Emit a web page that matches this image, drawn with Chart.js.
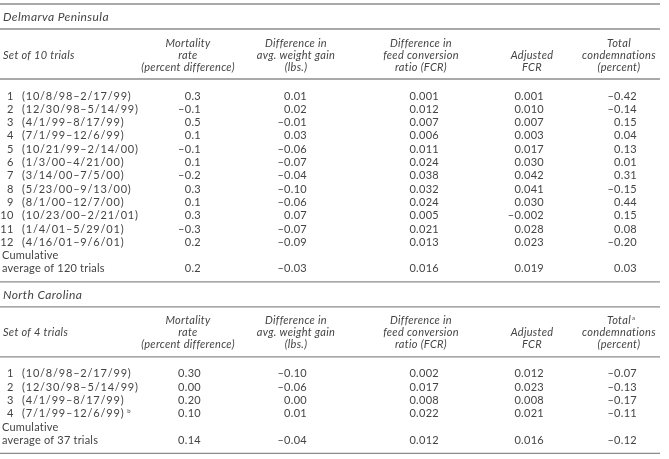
<!DOCTYPE html>
<html>
<head>
<meta charset="utf-8">
<script src="https://cdn.jsdelivr.net/npm/chart.js@4/dist/chart.umd.min.js"></script>
<style>
  html, body { margin: 0; padding: 0; background: #fff; }
  #wrap { width: 669px; height: 459px; }
</style>
</head>
<body>
<div id="wrap"><canvas id="tbl"></canvas></div>
<script>
// column headers (one entry per header line)
const colHeaders = [
  ['Mortality', 'rate', '(percent difference)'],
  ['Difference in', 'avg. weight gain', '(lbs.)'],
  ['Difference in', 'feed conversion', 'ratio (FCR)'],
  ['', 'Adjusted', 'FCR'],
  ['Total', 'condemnations', '(percent)']
];
const decimalsDM = [1, 2, 3, 3, 2];
const decimalsNC = [2, 2, 3, 3, 2];

// Delmarva Peninsula
const dmTrials = ['(10/8/98–2/17/99)', '(12/30/98–5/14/99)', '(4/1/99–8/17/99)', '(7/1/99–12/6/99)',
  '(10/21/99–2/14/00)', '(1/3/00–4/21/00)', '(3/14/00–7/5/00)', '(5/23/00–9/13/00)',
  '(8/1/00–12/7/00)', '(10/23/00–2/21/01)', '(1/4/01–5/29/01)', '(4/16/01–9/6/01)'];
const dmMortality = [0.3, -0.1, 0.5, 0.1, -0.1, 0.1, -0.2, 0.3, 0.1, 0.3, -0.3, 0.2];
const dmWeight = [0.01, 0.02, -0.01, 0.03, -0.06, -0.07, -0.04, -0.10, -0.06, 0.07, -0.07, -0.09];
const dmFcr = [0.001, 0.012, 0.007, 0.006, 0.011, 0.024, 0.038, 0.032, 0.024, 0.005, 0.021, 0.013];
const dmAdjFcr = [0.001, 0.010, 0.007, 0.003, 0.017, 0.030, 0.042, 0.041, 0.030, -0.002, 0.028, 0.023];
const dmCondemn = [-0.42, -0.14, 0.15, 0.04, 0.13, 0.01, 0.31, -0.15, 0.44, 0.15, 0.08, -0.20];
const dmCumulative = [0.2, -0.03, 0.016, 0.019, 0.03];

// North Carolina
const ncTrials = ['(10/8/98–2/17/99)', '(12/30/98–5/14/99)', '(4/1/99–8/17/99)', '(7/1/99–12/6/99)'];
const ncMortality = [0.30, 0.00, 0.20, 0.10];
const ncWeight = [-0.10, -0.06, 0.00, 0.01];
const ncFcr = [0.002, 0.017, 0.008, 0.022];
const ncAdjFcr = [0.012, 0.023, 0.008, 0.021];
const ncCondemn = [-0.07, -0.13, -0.17, -0.11];
const ncCumulative = [0.14, -0.04, 0.012, 0.016, -0.12];

// layout (x in pixels of the scale)
const headCenters = [188, 296, 421, 532, 619];
const valueRights = [201, 307, 439, 544, 637];
const ruleEnd = 660;
const rowStep = 13.3;
const font = 'Lato, "Open Sans", sans-serif';
const ink = '#444';

function fmt(v, d) {
  return v.toFixed(d).replace('-', '–');
}

function section(top, title, setLabel, trials, cols, cumul, decimals, avgLabel, marks) {
  const s = { top: top, title: title, setLabel: setLabel, trials: trials, cols: cols,
    cumul: cumul, decimals: decimals, avgLabel: avgLabel, marks: marks };
  s.titleY = top + 13;
  s.rule2 = top + 25;
  s.headY = [s.rule2 + 14, s.rule2 + 26, s.rule2 + 38];
  s.rule3 = s.rule2 + 50;
  s.rowY = trials.map((t, i) => s.rule3 + 17 + i * rowStep);
  const last = s.rowY[s.rowY.length - 1];
  s.cumY = last + rowStep;
  s.avgY = s.cumY + rowStep;
  s.bottom = s.avgY + 13;
  return s;
}

const dm = section(4, 'Delmarva Peninsula', 'Set of 10 trials', dmTrials,
  [dmMortality, dmWeight, dmFcr, dmAdjFcr, dmCondemn], dmCumulative, decimalsDM,
  'average of 120 trials', {});
const nc = section(dm.bottom, 'North Carolina', 'Set of 4 trials', ncTrials,
  [ncMortality, ncWeight, ncFcr, ncAdjFcr, ncCondemn], ncCumulative, decimalsNC,
  'average of 37 trials', { head: 4, row: 3 });
const sections = [dm, nc];

// datasets: one scatter dataset per value column per section, plus the rules
const datasets = [];
sections.forEach(s => {
  s.cols.forEach((vals, c) => {
    const pts = vals.map((v, i) => ({ x: valueRights[c], y: s.rowY[i] }));
    const labels = vals.map(v => fmt(v, s.decimals[c]));
    pts.push({ x: valueRights[c], y: s.avgY });
    labels.push(fmt(s.cumul[c], s.decimals[c]));
    datasets.push({ type: 'scatter', data: pts, cellText: labels, pointRadius: 0, pointHoverRadius: 0 });
  });
});
const rules = [dm.top, dm.rule2, dm.rule3, dm.bottom, nc.rule2, nc.rule3, nc.bottom];
rules.forEach(y => {
  datasets.push({ type: 'line', data: [{ x: 0, y: y }, { x: ruleEnd, y: y }],
    borderColor: '#8c8c8c', borderWidth: 1.4, pointRadius: 0 });
});

const tablePlugin = {
  id: 'tableText',
  afterDatasetsDraw(chart) {
    const ctx = chart.ctx;
    const xs = chart.scales.x, ys = chart.scales.y;
    const X = v => xs.getPixelForValue(v), Y = v => ys.getPixelForValue(v);
    ctx.save();
    ctx.fillStyle = ink;
    ctx.textBaseline = 'middle';

    // numeric cells
    ctx.font = '11px ' + font;
    ctx.textAlign = 'right';
    ctx.letterSpacing = '0.3px';
    chart.data.datasets.forEach((ds, i) => {
      if (!ds.cellText) return;
      chart.getDatasetMeta(i).data.forEach((pt, j) => {
        ctx.fillText(ds.cellText[j], pt.x, pt.y);
      });
    });
    ctx.letterSpacing = '0px';

    sections.forEach(s => {
      ctx.font = 'italic 12px ' + font;
      ctx.textAlign = 'left';
      ctx.letterSpacing = '0.4px';
      ctx.fillText(s.title, X(3), Y(s.titleY));
      ctx.font = 'italic 11px ' + font;
      ctx.letterSpacing = '0.3px';
      ctx.fillText(s.setLabel, X(3), Y(s.headY[1]));
      ctx.textAlign = 'center';
      colHeaders.forEach((lines, c) => {
        lines.forEach((t, k) => {
          if (t) ctx.fillText(t, X(headCenters[c]), Y(s.headY[k]));
        });
        if (s.marks.head === c) {
          const w = ctx.measureText(lines[0]).width;
          ctx.save();
          ctx.font = '6px ' + font;
          ctx.textAlign = 'left';
          ctx.fillText('a', X(headCenters[c]) + w / 2 + 1, Y(s.headY[0]) - 3);
          ctx.restore();
        }
      });

      ctx.font = '11px ' + font;
      ctx.letterSpacing = '0px';
      s.trials.forEach((t, i) => {
        ctx.textAlign = 'right';
        ctx.letterSpacing = '0.5px';
        ctx.fillText(String(i + 1), X(14), Y(s.rowY[i]));
        ctx.textAlign = 'left';
        ctx.letterSpacing = '0.8px';
        ctx.fillText(t, X(22), Y(s.rowY[i]));
        if (s.marks.row === i) {
          const w = ctx.measureText(t).width;
          ctx.save();
          ctx.font = '6px ' + font;
          ctx.fillText('b', X(22) + w + 3, Y(s.rowY[i]) - 3);
          ctx.restore();
        }
      });
      ctx.letterSpacing = '0.2px';
      ctx.textAlign = 'left';
      ctx.fillText('Cumulative', X(2), Y(s.cumY));
      ctx.fillText(s.avgLabel, X(2), Y(s.avgY));
      ctx.letterSpacing = '0px';
    });
    ctx.restore();
  }
};

new Chart(document.getElementById('tbl'), {
  data: { datasets: datasets },
  options: {
    responsive: true,
    maintainAspectRatio: false,
    animation: false,
    events: [],
    layout: { padding: 0 },
    plugins: { legend: { display: false }, tooltip: { enabled: false } },
    scales: {
      x: { type: 'linear', min: 0, max: 669, display: false },
      y: { type: 'linear', min: 0, max: 459, reverse: true, display: false }
    }
  },
  plugins: [tablePlugin]
});
</script>
</body>
</html>
